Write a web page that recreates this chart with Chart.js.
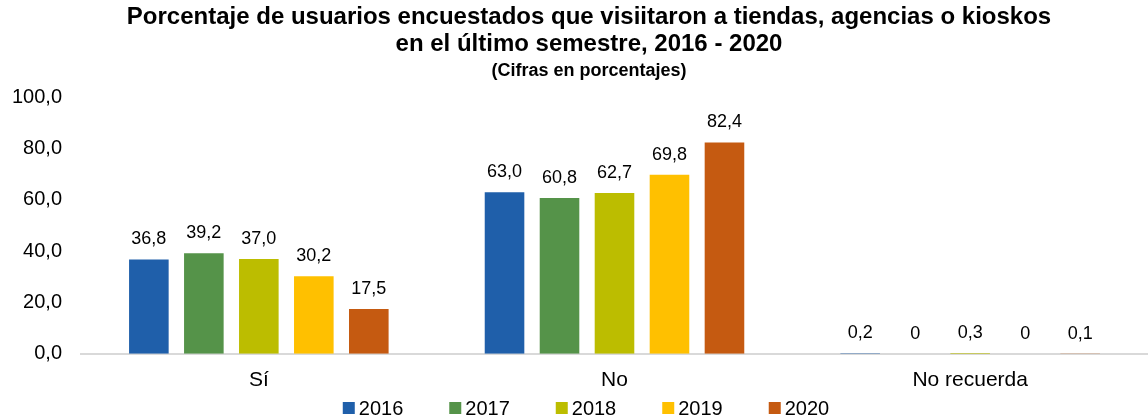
<!DOCTYPE html>
<html>
<head>
<meta charset="utf-8">
<script src="https://cdn.jsdelivr.net/npm/chart.js@4"></script>
<style>
  html, body { margin: 0; padding: 0; background: #fff; }
  #wrap { width: 1148px; height: 420px; }
</style>
</head>
<body>
<div id="wrap"><canvas id="chart"></canvas></div>
<script>
// categories and series
const categories = ['Sí', 'No', 'No recuerda'];
const years = ['2016', '2017', '2018', '2019', '2020'];
const v2016 = [36.8, 63.0, 0.2];
const v2017 = [39.2, 60.8, 0];
const v2018 = [37.0, 62.7, 0.3];
const v2019 = [30.2, 69.8, 0];
const v2020 = [17.5, 82.4, 0.1];
const yTicks = [0, 20, 40, 60, 80, 100];

const colors = ['#1f5faa', '#559349', '#bcbd00', '#ffc000', '#c55a11'];
const series = [v2016, v2017, v2018, v2019, v2020];
const FONT = '"Liberation Sans", Arial, sans-serif';

const fmt = v => v === 0 ? '0' : v.toFixed(1).replace('.', ',');

// value labels above the bars
const valueLabels = {
    id: 'valueLabels',
    afterDatasetsDraw(chart) {
        const ctx = chart.ctx;
        ctx.save();
        ctx.font = '18px ' + FONT;
        ctx.fillStyle = '#000';
        ctx.textAlign = 'center';
        ctx.textBaseline = 'alphabetic';
        chart.data.datasets.forEach((ds, i) => {
            const meta = chart.getDatasetMeta(i);
            meta.data.forEach((bar, j) => {
                ctx.fillText(fmt(ds.data[j]), bar.x, bar.y - 15);
            });
        });
        ctx.restore();
    }
};

// title and subtitle sit a bit right of the canvas centre in the original
const shiftTitles = {
    id: 'shiftTitles',
    afterLayout(chart) {
        chart.boxes.filter(b => b.position === 'top').forEach(b => { b.left += 30; });
    }
};

// legend row at the bottom (square box + year, wide spacing)
const bottomLegend = {
    id: 'bottomLegend',
    afterDraw(chart) {
        const ctx = chart.ctx;
        const box = 12, gap = 4, spacing = 46;
        ctx.save();
        ctx.font = '20px ' + FONT;
        ctx.textBaseline = 'middle';
        ctx.textAlign = 'left';
        const items = chart.data.datasets.map(ds => ({
            text: ds.label, color: ds.backgroundColor,
            w: box + gap + ctx.measureText(ds.label).width
        }));
        const total = items.reduce((s, it) => s + it.w, 0) + spacing * (items.length - 1);
        let x = 586 - total / 2;
        const y = 409;
        items.forEach(it => {
            ctx.fillStyle = it.color;
            ctx.fillRect(x, y - box / 2 - 1, box, box);
            ctx.fillStyle = '#000';
            ctx.fillText(it.text, x + box + gap, y);
            x += it.w + spacing;
        });
        ctx.restore();
    }
};

new Chart(document.getElementById('chart'), {
    type: 'bar',
    data: {
        labels: categories,
        datasets: years.map((y, i) => ({
            label: y,
            data: series[i],
            backgroundColor: colors[i],
            categoryPercentage: 0.773,
            barPercentage: 0.72
        }))
    },
    options: {
        responsive: true,
        maintainAspectRatio: false,
        animation: false,
        layout: { padding: { left: 0, right: 0, top: 4, bottom: 13 } },
        scales: {
            x: {
                grid: { display: false, drawTicks: false },
                border: { color: '#d9d9d9', width: 2 },
                ticks: {
                    color: '#000',
                    font: { family: FONT, size: 21 },
                    padding: 14
                }
            },
            y: {
                min: 0,
                max: 100,
                afterBuildTicks: axis => { axis.ticks = yTicks.map(v => ({ value: v })); },
                afterFit: axis => { axis.width = 81; },
                grid: { display: false, drawTicks: false },
                border: { display: false },
                ticks: {
                    color: '#000',
                    font: { family: FONT, size: 20 },
                    padding: 19,
                    callback: v => v.toFixed(1).replace('.', ',')
                }
            }
        },
        plugins: {
            title: {
                display: true,
                text: ['Porcentaje de usuarios encuestados que visiitaron a tiendas, agencias o kioskos',
                       'en el último semestre, 2016 - 2020'],
                color: '#000',
                font: { family: FONT, size: 24, weight: 'bold', lineHeight: 1.12 },
                padding: { top: 0, bottom: 0 }
            },
            subtitle: {
                display: true,
                text: '(Cifras en porcentajes)',
                color: '#000',
                font: { family: FONT, size: 18, weight: 'bold' },
                padding: { top: 2, bottom: 16 }
            },
            legend: { display: false },
            tooltip: { enabled: false }
        }
    },
    plugins: [valueLabels, shiftTitles, bottomLegend]
});
</script>
</body>
</html>
